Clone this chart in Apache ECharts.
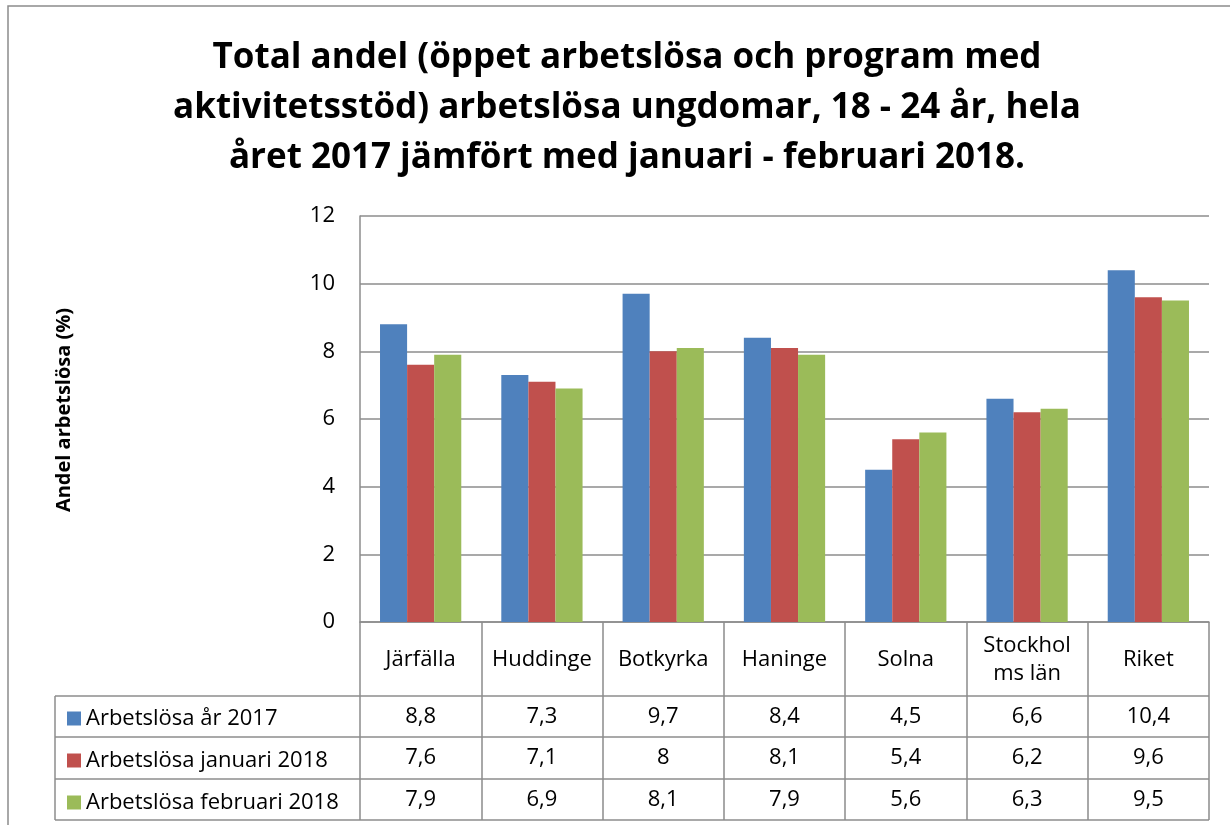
<!DOCTYPE html>
<html>
<head>
<meta charset="utf-8">
<script src="https://cdn.jsdelivr.net/npm/echarts@6/dist/echarts.min.js"></script>
<style>
  html, body { margin: 0; padding: 0; background: #fff; }
  #chart { width: 1230px; height: 825px; }
</style>
</head>
<body>
<div id="chart"></div>
<script>
// ---- data ----
const categories = ['Järfälla', 'Huddinge', 'Botkyrka', 'Haninge', 'Solna', 'Stockholms län', 'Riket'];
// Excel bröt rubriken så här i tabellhuvudet
const categoryLabels = ['Järfälla', 'Huddinge', 'Botkyrka', 'Haninge', 'Solna', 'Stockhol\nms län', 'Riket'];
const seriesNames = ['Arbetslösa år 2017', 'Arbetslösa januari 2018', 'Arbetslösa februari 2018'];
const year2017 = [8.8, 7.3, 9.7, 8.4, 4.5, 6.6, 10.4];
const jan2018 = [7.6, 7.1, 8.0, 8.1, 5.4, 6.2, 9.6];
const feb2018 = [7.9, 6.9, 8.1, 7.9, 5.6, 6.3, 9.5];
const yTicks = { min: 0, max: 12, interval: 2 };

const titleText = 'Total andel (öppet arbetslösa och program med\naktivitetsstöd) arbetslösa ungdomar, 18 - 24 år, hela\nåret 2017 jämfört med januari - februari 2018.';
const yName = 'Andel arbetslösa (%)';

// ---- layout ----
const W = 1230, H = 825;
const plotLeft = 360, plotRight = 1209, plotTop = 216, plotBottom = 622;
const tableLeft = 55;
const rowLines = [696, 737, 779, 820];   // undre kant på varje tabellrad
const FONT = '"Open Sans", sans-serif';
const GRID = '#8c8c8c';
const colors = ['#4F81BD', '#C0504D', '#9BBB59'];
const seriesData = [year2017, jan2018, feb2018];
const fs = 22;

const fmt = v => String(v).replace('.', ',');

// mitten av varje rad, räknat från x-axeln
const rowCenters = [];
let prev = plotBottom;
rowLines.forEach(y => { rowCenters.push((prev + y) / 2 - plotBottom); prev = y; });

const xAxes = [{
  type: 'category',
  data: categories,
  position: 'bottom',
  axisLine: { show: true, lineStyle: { color: GRID, width: 1.5 } },
  axisTick: { show: true, length: rowLines[3] - plotBottom, lineStyle: { color: GRID, width: 1.5 } },
  axisLabel: {
    margin: rowCenters[0] + 1, verticalAlign: 'middle', interval: 0,
    color: '#000', fontFamily: FONT, fontSize: fs, lineHeight: 28,
    formatter: (v, i) => categoryLabels[i]
  }
}];
seriesData.forEach((arr, k) => {
  xAxes.push({
    type: 'category',
    data: categories,
    position: 'bottom',
    axisLine: { show: false },
    axisTick: { show: false },
    axisLabel: {
      margin: rowCenters[k + 1], verticalAlign: 'middle', interval: 0,
      color: '#000', fontFamily: FONT, fontSize: fs,
      formatter: (v, i) => fmt(arr[i])
    }
  });
});

const graphics = [
  // yttre ram
  { type: 'rect', shape: { x: 8, y: 6, width: W + 20, height: H + 20 },
    style: { fill: null, stroke: '#8c8c8c', lineWidth: 1.5 }, silent: true },
  // vänster kant på förklaringskolumnen
  { type: 'line', shape: { x1: tableLeft, y1: rowLines[0], x2: tableLeft, y2: rowLines[3] },
    style: { stroke: GRID, lineWidth: 1.5 }, silent: true }
];
rowLines.forEach(y => {
  graphics.push({ type: 'line', shape: { x1: tableLeft, y1: y, x2: plotRight, y2: y },
    style: { stroke: GRID, lineWidth: 1.5 }, silent: true });
});

const chart = echarts.init(document.getElementById('chart'));
chart.setOption({
  animation: false,
  backgroundColor: '#fff',
  title: {
    text: titleText,
    left: 622, top: 28, textAlign: 'center',
    textStyle: { fontFamily: FONT, fontWeight: 'bold', fontSize: 35, lineHeight: 50, color: '#000' }
  },
  legend: {
    orient: 'vertical',
    left: 62, top: rowCenters[1] + plotBottom - 16,
    itemWidth: 14, itemHeight: 14, itemGap: 16, icon: 'rect',
    textStyle: { fontFamily: FONT, fontSize: fs, color: '#000', lineHeight: 26 },
    data: seriesNames
  },
  grid: { left: plotLeft, right: W - plotRight, top: plotTop, bottom: H - plotBottom, containLabel: false },
  xAxis: xAxes,
  yAxis: {
    type: 'value',
    min: yTicks.min, max: yTicks.max, interval: yTicks.interval,
    name: yName, nameLocation: 'middle', nameRotate: 90, nameGap: 286,
    nameTextStyle: { fontFamily: FONT, fontWeight: 'bold', fontSize: 20, color: '#000', padding: [0, 0, 0, 18] },
    axisLine: { show: true, lineStyle: { color: GRID, width: 1.5 } },
    axisTick: { show: false },
    axisLabel: { margin: 25, color: '#000', fontFamily: FONT, fontSize: fs },
    splitLine: { lineStyle: { color: GRID, width: 1.5 } }
  },
  series: seriesNames.map((name, k) => ({
    name,
    type: 'bar',
    data: seriesData[k],
    itemStyle: { color: colors[k] },
    barGap: 0,
    barCategoryGap: '33%'
  })),
  graphic: graphics
});
</script>
</body>
</html>
